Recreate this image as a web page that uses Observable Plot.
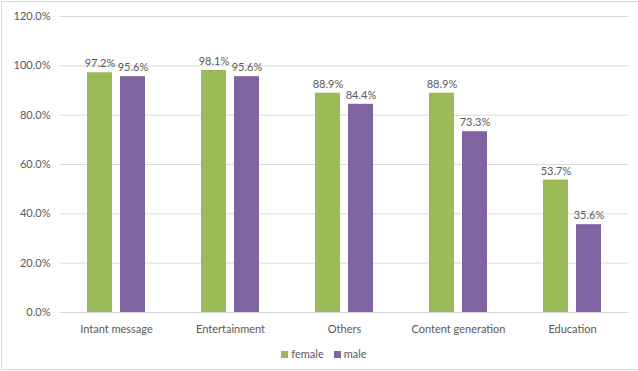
<!DOCTYPE html>
<html>
<head>
<meta charset="utf-8">
<script src="https://cdn.jsdelivr.net/npm/d3@7"></script>
<script src="https://cdn.jsdelivr.net/npm/@observablehq/plot@0.6"></script>
<style>
  html, body { margin: 0; padding: 0; background: #fff; }
  #frame { position: relative; width: 636px; height: 367px; border: 1px solid #d9d9d9; margin: 1px 0 0 1px; font-family: Lato, "Open Sans", sans-serif; overflow: hidden; }
  #chart { position: absolute; left: -2px; top: -2px; }
  #legend { position: absolute; left: 0; width: 636px; top: 345px; text-align: center; font-size: 11px; color: #595959; padding-left: 8px; box-sizing: border-box; }
  .item { display: inline-block; margin: 0 5px; }
  .sw { display: inline-block; width: 7px; height: 7px; margin-right: 3px; vertical-align: 0px; }
</style>
</head>
<body>
<div id="frame">
  <div id="chart"></div>
  <div id="legend"></div>
</div>
<script>
const categories = ["Intant message", "Entertainment", "Others", "Content generation", "Education"];
const series = ["female", "male"];
const female = [97.2, 98.1, 88.9, 88.9, 53.7];
const male = [95.6, 95.6, 84.4, 73.3, 35.6];
const colors = ["#9BBB59", "#8064A2"];
const yTicks = [0, 20, 40, 60, 80, 100, 120];

const data = [];
categories.forEach((c, i) => {
  data.push({category: c, sex: "female", value: female[i]});
  data.push({category: c, sex: "male", value: male[i]});
});

const plot = Plot.plot({
  width: 638,
  height: 340,
  marginLeft: 59,
  marginRight: 9,
  marginTop: 16,
  marginBottom: 28,
  style: {fontFamily: "Lato, 'Open Sans', sans-serif", fontSize: "11px", color: "#595959", background: "transparent"},
  fx: {domain: categories, paddingInner: 0, paddingOuter: 0, label: null, axis: "bottom", tickSize: 0, tickPadding: 13},
  x: {domain: series, paddingInner: 0.242, paddingOuter: 0.848, axis: null},
  y: {domain: [0, 120], ticks: yTicks, tickFormat: d => d.toFixed(1) + "%", label: null, tickSize: 0, tickPadding: 9},
  color: {domain: series, range: colors},
  marks: [
    Plot.gridY(yTicks, {stroke: "#d9d9d9", strokeOpacity: 1}),
    Plot.barY(data, {fx: "category", x: "sex", y: "value", fill: "sex"}),
    Plot.text(data, {fx: "category", x: "sex", y: "value", text: d => d.value.toFixed(1) + "%", dy: -9, fill: "#595959", fontSize: 11}),
    Plot.ruleY([0], {stroke: "#d9d9d9"})
  ]
});
document.getElementById("chart").appendChild(plot);

const legend = document.getElementById("legend");
series.forEach((s, i) => {
  const item = document.createElement("span");
  item.className = "item";
  const sw = document.createElement("span");
  sw.className = "sw";
  sw.style.background = colors[i];
  item.appendChild(sw);
  item.appendChild(document.createTextNode(s));
  legend.appendChild(item);
});
</script>
</body>
</html>
